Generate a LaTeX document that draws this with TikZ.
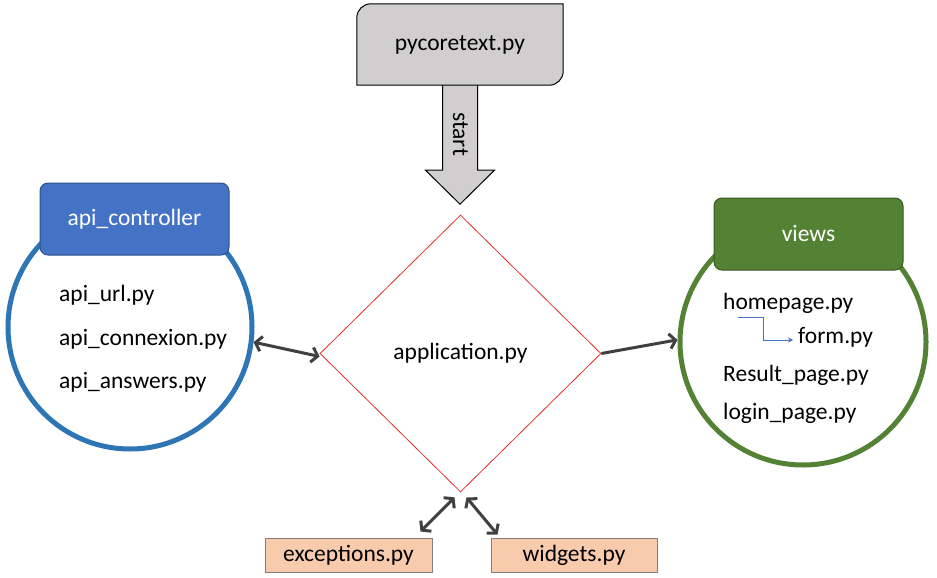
\documentclass[tikz,border=0pt]{standalone}
\usepackage{fontspec}
\setmainfont{Carlito}
\usetikzlibrary{shapes.geometric,arrows.meta,backgrounds}
\definecolor{boxgray}{HTML}{D0CECE}
\definecolor{apiblue}{HTML}{4472C4}
\definecolor{apiborder}{HTML}{2F528F}
\definecolor{circblue}{HTML}{2E75B6}
\definecolor{viewgreen}{HTML}{548235}
\definecolor{viewborder}{HTML}{385723}
\definecolor{diared}{HTML}{E0302A}
\definecolor{peach}{HTML}{F8CBAD}
\definecolor{peachborder}{HTML}{7F7F7F}
\definecolor{arrowdark}{HTML}{404040}
\begin{document}
\begin{tikzpicture}[x=1pt,y=1pt,
  font=\fontsize{23.5}{28}\selectfont,
  lbl/.style={anchor=west, inner sep=0pt},
  hdr/.style={rounded corners=8pt, minimum width=189pt, minimum height=72pt, text=white, line width=1pt},
  ring/.style={circle, line width=5pt, inner sep=0pt},
  filebox/.style={draw=peachborder, fill=peach, line width=1pt, minimum height=34pt, inner sep=0pt},
  barb/.tip={Straight Barb[length=6pt,width=15pt]},
  conn/.style={line width=3pt, draw=arrowdark},
]
\useasboundingbox (0,0) rectangle (937,-578);

% top box and block arrow
\node[minimum width=206pt, minimum height=81pt, inner sep=0pt] (pyc) at (460,-44.5) {pycoretext.py};
\begin{scope}[on background layer]
  \draw[fill=boxgray, line width=1pt] (pyc.south) ++(-17.5,0) -- ++(0,-85) -- ++(-17,0) -- ++(34.5,-34) -- ++(34.5,34) -- ++(-17,0) -- ++(0,85);
  \draw[fill=boxgray, line width=1pt] (pyc.south west) -- ([yshift=-14pt]pyc.north west) arc(180:90:14pt) -- (pyc.north east) -- ([yshift=14pt]pyc.south east) arc(0:-90:14pt) -- cycle;
\end{scope}
\node[rotate=-90] (st) at (460.5,-134) {start};

% diamond
\node[diamond, draw=diared, line width=0.8pt, minimum width=281pt, minimum height=277pt, inner sep=0pt] (dia) at (460.5,-353.5) {application.py};

% left cluster
\node[ring, draw=circblue, minimum size=244pt] (lc) at (130,-327) {};
\node[hdr, draw=apiborder, fill=apiblue] (api) at (134.5,-219) {api\_controller};
\node[lbl] (u1) at (59,-295) {api\_url.py};
\node[lbl] (u2) at (59,-339) {api\_connexion.py};
\node[lbl] (u3) at (59,-382) {api\_answers.py};

% right cluster
\node[ring, draw=viewgreen, minimum size=246pt] (rc) at (803,-342) {};
\node[hdr, draw=viewborder, fill=viewgreen] (views) at (808.5,-234) {views};
\node[lbl] (v1) at (723,-303) {homepage.py};
\node[lbl] (v2) at (798,-337) {form.py};
\node[lbl] (v3) at (723,-375) {Result\_page.py};
\node[lbl] (v4) at (723,-413) {login\_page.py};
\coordinate (el) at (738,-317);
\draw[apiblue, line width=0.8pt, -{Stealth[length=5pt,width=5pt]}] (el) -| ([xshift=-35pt,yshift=-3pt]v2.west) -- ([xshift=-5pt,yshift=-3pt]v2.west);

% bottom boxes
\node[filebox, minimum width=167pt] (exc) at (348.5,-555) {exceptions.py};
\node[filebox, minimum width=166pt] (wid) at (574,-555) {widgets.py};

% connectors
\draw[conn, barb-barb] (lc.-7.4) -- ([yshift=-3pt]dia.west);
\draw[conn, -barb] (dia.east) -- (rc.179);
\draw[conn, barb-barb] ([xshift=-6pt,yshift=-5pt]dia.south) -- ([xshift=-12pt,yshift=6pt]exc.north east);
\draw[conn, barb-barb] ([xshift=6pt,yshift=-5pt]dia.south) -- ([xshift=7pt,yshift=3pt]wid.north west);
\end{tikzpicture}
\end{document}
